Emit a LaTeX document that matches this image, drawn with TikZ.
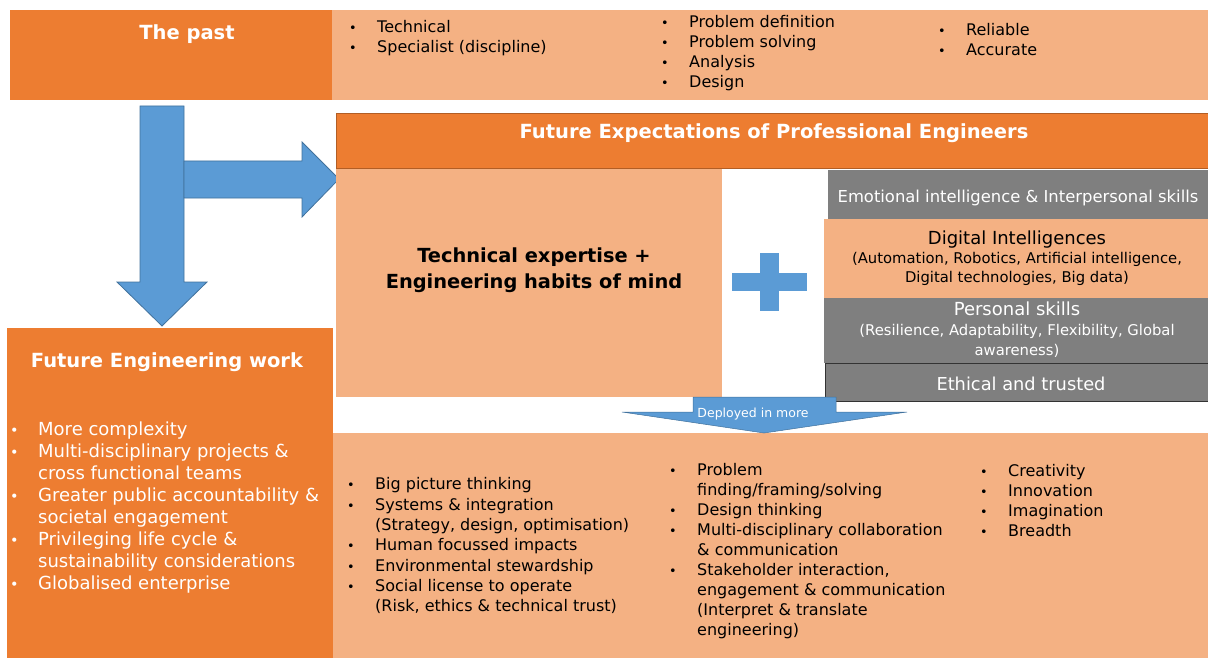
\documentclass[tikz,border=0pt]{standalone}
\usepackage{fontspec}
\setmainfont{DejaVu Sans}
\usepackage{xcolor}
\usetikzlibrary{positioning}
\definecolor{darkorange}{HTML}{ED7D31}
\definecolor{lightorange}{HTML}{F4B183}
\definecolor{greybox}{HTML}{7F7F7F}
\definecolor{arrowblue}{HTML}{5B9BD5}
\definecolor{arrowedge}{HTML}{41719C}
\tikzset{darkbox/.style={fill=darkorange, draw=none, inner sep=0pt, anchor=north west},
  lightbox/.style={fill=lightorange, draw=none, inner sep=0pt, anchor=north west},
  greybox/.style={fill=greybox, draw=none, inner sep=0pt, anchor=north west},
  blockarrow/.style={fill=arrowblue, draw=arrowedge, line width=0.8pt, line join=miter},
  txt/.style={inner sep=0pt, align=left, anchor=north west, font=\fontsize{16}{20}\selectfont},
  title/.style={inner sep=0pt, text=white, font=\fontsize{19.5}{22}\selectfont\bfseries}}
\newcommand{\bul}{\makebox[28pt][l]{\scalebox{0.8}{\textbullet}}}
\newcommand{\ind}{\hspace*{28pt}}

\begin{document}
\begin{tikzpicture}[x=1pt, y=-1pt]
\useasboundingbox (0,0) rectangle (1208,658);
% the past
\node[darkbox, minimum width=322, minimum height=90] (past) at (10,10) {};
\node[lightbox, minimum width=876, minimum height=90] (pastlist) at (332,10) {};
\node[title] (pasttitle) at (187,34) {The past};
\node[txt] (pastA) at (349,20.5) {\bul Technical\\\bul Specialist (discipline)};
\node[txt] (pastB) at (661,15.5) {\bul Problem definition\\\bul Problem solving\\\bul Analysis\\\bul Design};
\node[txt] (pastC) at (938,23.5) {\bul Reliable\\\bul Accurate};
% arrows
\draw[blockarrow] (140,106) -- (184,106) -- (184,282) -- (207,282) -- (162,326) -- (117,282) -- (140,282) -- cycle;
\draw[blockarrow] (184,161) -- (302,161) -- (302,142) -- (339,179) -- (302,217) -- (302,198) -- (184,198) -- cycle;
% future expectations
\node[darkbox, draw=darkorange!75!black, line width=0.8pt, minimum width=872, minimum height=55] (expect) at (336,113) {};
\node[title] (expecttitle) at (774,133) {Future Expectations of Professional Engineers};
\node[lightbox, minimum width=386, minimum height=228] (tech) at (336,169) {};
\node[inner sep=0pt, align=center, font=\fontsize{19.4}{26}\selectfont\bfseries] (techtext) at (534,270.5)
  {Technical expertise +\\Engineering habits of mind};
\fill[arrowblue] (732,273) rectangle (807,291);
\fill[arrowblue] (760,253) rectangle (779,311);
% right hand skills
\node[greybox, minimum width=380, minimum height=49] (emotion) at (828,170) {};
\node[inner sep=0pt, text=white, font=\fontsize{16.4}{18}\selectfont] (emotiontext) at (1018,198) {Emotional intelligence \& Interpersonal skills};
\node[lightbox, minimum width=384, minimum height=79] (digital) at (824,219) {};
\node[inner sep=0pt, align=center, font=\fontsize{14.8}{19}\selectfont] (digitaltext) at (1017,258.5)
  {{\fontsize{18}{19}\selectfont Digital Intelligences}\\(Automation, Robotics, Artificial intelligence,\\Digital technologies, Big data)};
\node[greybox, minimum width=384, minimum height=65] (personal) at (824,298) {};
\node[inner sep=0pt, align=center, text=white, font=\fontsize{14.8}{20}\selectfont] (personaltext) at (1017,330)
  {{\fontsize{18}{20}\selectfont Personal skills}\\(Resilience, Adaptability, Flexibility, Global\\awareness)};
\node[greybox, draw=black!80, line width=0.8pt, minimum width=383, minimum height=38] (ethical) at (825,363) {};
\node[inner sep=0pt, text=white, font=\fontsize{17.8}{20}\selectfont] (ethicaltext) at (1021,383.5) {Ethical and trusted};
% future engineering work
\node[darkbox, minimum width=326, minimum height=330] (work) at (7,328) {};
\node[title] (worktitle) at (167,362) {Future Engineering work};
\node[txt, text=white, font=\fontsize{18}{22}\selectfont] (worklist) at (10,421.5)
  {\bul More complexity\\\bul Multi-disciplinary projects \&\\\ind cross functional teams\\
   \bul Greater public accountability \&\\\ind societal engagement\\
   \bul Privileging life cycle \&\\\ind sustainability considerations\\\bul Globalised enterprise};
% deployed
\node[lightbox, minimum width=875, minimum height=225] (deploy) at (333,433) {};
\draw[blockarrow, line width=0.5pt] (693,397) -- (836,397) -- (836,412) -- (907,412) -- (764,433) -- (622,412) -- (693,412) -- cycle;
\node[inner sep=0pt, text=white, font=\fontsize{12.5}{14}\selectfont] (deploytext) at (753,414) {Deployed in more};
\node[txt, font=\fontsize{16}{20.3}\selectfont] (deployA) at (347,477.5) {\bul Big picture thinking\\\bul Systems \& integration\\\ind (Strategy, design, optimisation)\\
  \bul Human focussed impacts\\\bul Environmental stewardship\\\bul Social license to operate\\\ind (Risk, ethics \& technical trust)};
\node[txt, font=\fontsize{16}{19.9}\selectfont] (deployB) at (669,463.5) {\bul Problem\\\ind finding/framing/solving\\\bul Design thinking\\\bul Multi-disciplinary collaboration\\
  \ind \& communication\\\bul Stakeholder interaction,\\\ind engagement \& communication\\\ind (Interpret \& translate\\\ind engineering)};
\node[txt] (deployC) at (980,464.5) {\bul Creativity\\\bul Innovation\\\bul Imagination\\\bul Breadth};
\end{tikzpicture}
\end{document}
